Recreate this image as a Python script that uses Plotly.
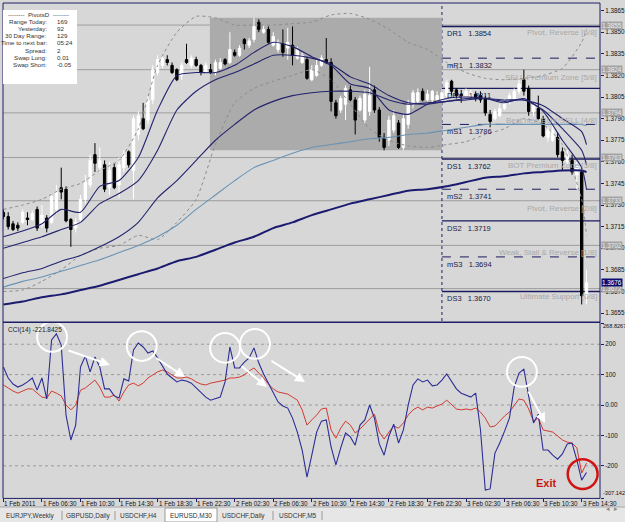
import plotly.graph_objects as go

# ---------------- data ----------------
bars = list(range(122))  # M30 bars from 1 Feb 2011 02:30

opens = [1.3725,1.3722,1.3717,1.3716,1.3718,1.3721,1.3720,1.3727,1.3716,1.3721,
         1.3718,1.3727,1.3742,1.3741,1.3720,1.3714,1.3720,1.3734,1.3744,1.3765,
         1.3756,1.3758,1.3742,1.3756,1.3744,1.3756,1.3767,1.3754,1.3779,1.3790,
         1.3789,1.3803,1.3822,1.3827,1.3831,1.3827,1.3824,1.3820,1.3831,1.3827,
         1.3831,1.3827,1.3822,1.3824,1.3822,1.3825,1.3831,1.3829,1.3836,1.3834,
         1.3845,1.3841,1.3845,1.3857,1.3850,1.3852,1.3841,1.3838,1.3842,1.3839,
         1.3841,1.3832,1.3829,1.3831,1.3817,1.3820,1.3827,1.3831,1.3829,1.3801,
         1.3796,1.3800,1.3810,1.3803,1.3796,1.3789,1.3795,1.3810,1.3796,1.3777,
         1.3775,1.3782,1.3787,1.3770,1.3786,1.3800,1.3802,1.3809,1.3803,1.3803,
         1.3803,1.3803,1.3806,1.3816,1.3810,1.3807,1.3806,1.3804,1.3807,1.3806,
         1.3804,1.3793,1.3790,1.3792,1.3797,1.3802,1.3804,1.3809,1.3817,1.3811,
         1.3795,1.3797,1.3790,1.3777,1.3775,1.3777,1.3767,1.3760,1.3761,1.3751,
         1.3753,1.3667]
highs = [1.3727,1.3725,1.3719,1.3718,1.3727,1.3725,1.3726,1.3729,1.3730,1.3723,
         1.3738,1.3744,1.3756,1.3743,1.3721,1.3721,1.3737,1.3751,1.3765,1.3773,
         1.3770,1.3761,1.3760,1.3759,1.3763,1.3768,1.3768,1.3792,1.3795,1.3801,
         1.3806,1.3827,1.3834,1.3834,1.3834,1.3829,1.3825,1.3829,1.3842,1.3834,
         1.3833,1.3828,1.3829,1.3828,1.3831,1.3832,1.3832,1.3850,1.3838,1.3841,
         1.3846,1.3846,1.3860,1.3859,1.3855,1.3854,1.3850,1.3845,1.3852,1.3853,
         1.3854,1.3840,1.3836,1.3833,1.3827,1.3831,1.3834,1.3846,1.3832,1.3803,
         1.3806,1.3813,1.3813,1.3805,1.3806,1.3810,1.3826,1.3813,1.3798,1.3780,
         1.3792,1.3796,1.3789,1.3793,1.3803,1.3810,1.3811,1.3811,1.3810,1.3810,
         1.3809,1.3810,1.3817,1.3817,1.3811,1.3810,1.3811,1.3810,1.3809,1.3809,
         1.3806,1.3796,1.3797,1.3800,1.3804,1.3808,1.3811,1.3818,1.3824,1.3813,
         1.3801,1.3806,1.3792,1.3784,1.3786,1.3780,1.3770,1.3768,1.3765,1.3760,
         1.3756,1.3685]
lows = [1.3720,1.3713,1.3712,1.3712,1.3717,1.3716,1.3719,1.3712,1.3714,1.3711,
        1.3717,1.3724,1.3734,1.3718,1.3701,1.3711,1.3718,1.3731,1.3742,1.3753,
        1.3753,1.3739,1.3737,1.3741,1.3735,1.3753,1.3756,1.3734,1.3775,1.3782,
        1.3786,1.3800,1.3820,1.3825,1.3827,1.3821,1.3816,1.3817,1.3828,1.3825,
        1.3826,1.3820,1.3821,1.3821,1.3820,1.3824,1.3827,1.3828,1.3833,1.3833,
        1.3838,1.3839,1.3843,1.3850,1.3849,1.3842,1.3840,1.3836,1.3833,1.3831,
        1.3827,1.3831,1.3828,1.3817,1.3816,1.3819,1.3826,1.3828,1.3795,1.3790,
        1.3794,1.3789,1.3802,1.3779,1.3795,1.3787,1.3792,1.3794,1.3774,1.3768,
        1.3771,1.3780,1.3769,1.3768,1.3783,1.3797,1.3800,1.3802,1.3802,1.3801,
        1.3802,1.3801,1.3805,1.3806,1.3804,1.3801,1.3804,1.3803,1.3802,1.3801,
        1.3792,1.3784,1.3789,1.3791,1.3796,1.3800,1.3803,1.3807,1.3806,1.3792,
        1.3792,1.3789,1.3777,1.3774,1.3774,1.3763,1.3754,1.3758,1.3751,1.3741,
        1.3661,1.3661]
closes = [1.3722,1.3715,1.3713,1.3714,1.3725,1.3720,1.3724,1.3714,1.3723,1.3714,
          1.3736,1.3739,1.3739,1.3719,1.3713,1.3718,1.3734,1.3746,1.3761,1.3759,
          1.3761,1.3741,1.3754,1.3742,1.3758,1.3765,1.3758,1.3790,1.3792,1.3783,
          1.3803,1.3824,1.3831,1.3832,1.3829,1.3822,1.3817,1.3827,1.3829,1.3832,
          1.3827,1.3822,1.3827,1.3822,1.3829,1.3829,1.3828,1.3838,1.3834,1.3839,
          1.3842,1.3844,1.3854,1.3852,1.3852,1.3843,1.3847,1.3843,1.3836,1.3843,
          1.3834,1.3838,1.3834,1.3818,1.3824,1.3827,1.3832,1.3829,1.3802,1.3792,
          1.3804,1.3811,1.3803,1.3789,1.3804,1.3807,1.3806,1.3796,1.3777,1.3770,
          1.3789,1.3792,1.3770,1.3790,1.3800,1.3808,1.3808,1.3803,1.3807,1.3809,
          1.3806,1.3808,1.3815,1.3809,1.3806,1.3806,1.3809,1.3808,1.3804,1.3803,
          1.3794,1.3788,1.3795,1.3797,1.3802,1.3806,1.3809,1.3814,1.3809,1.3795,
          1.3799,1.3790,1.3778,1.3782,1.3782,1.3765,1.3761,1.3765,1.3753,1.3757,
          1.3667,1.3676]

# moving averages / bands sampled every 4 bars (+ last bar)
ma_bars = [0,4,8,12,16,20,24,28,32,36,40,44,48,52,56,60,64,68,72,76,80,84,88,92,96,100,104,108,112,116,120,121]
ma_fast = [1.3708,1.3712,1.3717,1.3727,1.3725,1.3743,1.3747,1.3763,1.3796,1.3820,1.3822,1.3822,1.3827,1.3836,1.3843,1.3840,
           1.3833,1.3827,1.3814,1.3811,1.3796,1.3793,1.3800,1.3804,1.3805,1.3804,1.3801,1.3804,1.3795,1.3775,1.3756,1.3741]
ma_mid = [1.3700,1.3704,1.3708,1.3713,1.3718,1.3731,1.3738,1.3747,1.3768,1.3796,1.3809,1.3817,1.3822,1.3828,1.3834,1.3834,
          1.3832,1.3828,1.3819,1.3814,1.3806,1.3801,1.3800,1.3802,1.3803,1.3804,1.3802,1.3803,1.3796,1.3783,1.3768,1.3758]
ma_slow = [1.3679,1.3683,1.3686,1.3691,1.3695,1.3701,1.3708,1.3718,1.3735,1.3747,1.3761,1.3775,1.3786,1.3796,1.3802,1.3806,
           1.3808,1.3809,1.3809,1.3808,1.3803,1.3800,1.3801,1.3802,1.3804,1.3804,1.3803,1.3803,1.3799,1.3790,1.3781,1.3772]
ma_steel = [1.3673,1.3677,1.3680,1.3684,1.3688,1.3692,1.3697,1.3702,1.3708,1.3716,1.3727,1.3737,1.3747,1.3756,1.3761,1.3766,
            1.3770,1.3772,1.3774,1.3776,1.3777,1.3779,1.3780,1.3782,1.3784,1.3786,1.3786,1.3786,1.3786,1.3786,1.3786,1.3785]
ma_long = [1.3661,1.3663,1.3666,1.3668,1.3671,1.3674,1.3678,1.3682,1.3686,1.3691,1.3694,1.3699,1.3704,1.3708,1.3714,1.3718,
           1.3723,1.3727,1.3731,1.3734,1.3737,1.3740,1.3741,1.3743,1.3746,1.3749,1.3750,1.3752,1.3753,1.3754,1.3754,1.3753]
bb_upper = [1.3727,1.3730,1.3734,1.3741,1.3745,1.3754,1.3761,1.3783,1.3827,1.3850,1.3861,1.3860,1.3855,1.3855,1.3855,1.3856,
            1.3857,1.3862,1.3863,1.3859,1.3852,1.3843,1.3838,1.3829,1.3822,1.3818,1.3817,1.3818,1.3820,1.3825,1.3843,1.3852]
bb_lower = [1.3670,1.3671,1.3677,1.3685,1.3695,1.3700,1.3702,1.3709,1.3706,1.3718,1.3734,1.3772,1.3801,1.3811,1.3816,1.3820,
            1.3824,1.3817,1.3800,1.3783,1.3775,1.3771,1.3770,1.3772,1.3774,1.3779,1.3783,1.3790,1.3786,1.3772,1.3734,1.3709]

cci = [125,89,69,59,66,76,89,49,89,20,
       214,234,197,-33,-115,-66,125,161,109,158,
       125,53,53,30,23,86,79,181,204,191,
       171,178,155,128,102,89,76,82,79,72,
       56,39,26,16,20,26,76,191,122,122,
       141,155,188,138,102,72,43,10,-3,-10,
       -43,-89,-148,-237,-165,-89,-53,-49,-138,-197,
       -141,-92,-105,-132,-66,-49,0,-43,-128,-165,
       -102,-63,-125,-82,0,66,86,76,82,63,
       66,82,102,76,53,39,33,26,39,-82,
       -280,-276,-158,-125,-86,-43,59,105,118,23,
       -59,-30,-148,-148,-165,-178,-161,-128,-125,-181,
       -247,-221.8425]
cci_signal = [66,56,46,39,46,53,53,39,26,23,
              46,39,30,0,-16,0,49,56,69,82,
              59,26,26,33,13,43,66,72,63,72,
              89,99,109,115,109,99,89,89,92,86,
              76,69,66,72,76,79,82,89,89,92,
              99,112,122,105,89,69,53,43,39,36,
              26,16,-16,-66,-49,-33,-13,-10,-82,-109,
              -76,-53,-66,-92,-79,-63,-49,-30,-89,-112,
              -89,-69,-76,-59,-33,-16,-7,-16,-7,-10,
              -3,3,16,0,-13,-16,-13,-16,-10,-23,
              -43,-72,-69,-53,-36,-23,0,20,16,-13,
              -53,-43,-82,-86,-89,-102,-115,-122,-125,-141,
              -224,-191]

time_label_bars = [0,8,16,24,32,40,48,56,64,72,80,88,96,104,112,120]
time_labels = ["1 Feb 2011","1 Feb 06:30","1 Feb 10:30","1 Feb 14:30","1 Feb 18:30","1 Feb 22:30",
               "2 Feb 02:30","2 Feb 06:30","2 Feb 10:30","2 Feb 14:30","2 Feb 18:30","2 Feb 22:30",
               "3 Feb 02:30","3 Feb 06:30","3 Feb 10:30","3 Feb 14:30"]
price_ticks = [1.3865,1.3850,1.3835,1.3820,1.3805,1.3790,1.3775,1.3760,1.3745,1.3730,1.3715,1.3700,1.3685,1.3670,1.3655]
cci_max, cci_min = 268.8267, -307.142
cci_ticks = [cci_max,200,100,0,-100,-200,cci_min]
cci_tick_text = ["","200","100","0.00","-100","-200",""]
cci_max_text, cci_min_text = "268.8267", "-307.142"
cci_levels = [200,100,0,-100,-200]

pivot_names = ["DR1","mR1","DPV","mS1","DS1","mS2","DS2","mS3","DS3"]
pivot_values = [1.3854,1.3832,1.3811,1.3786,1.3762,1.3741,1.3719,1.3694,1.3670]
murrey_levels = [1.3855,1.3824,1.3794,1.3763,1.3733,1.3702,1.3672]
murrey_texts = ["Pivot, Reverse [6/8]","SELL Premium Zone [5/8]","Best new BUY/SELL [4/8]",
                "BOT Premium Zone [3/8]","Pivot, Reverse [2/8]","Weak, Stall & Reverse [1/8]",
                "Ultimate Support [0/8]"]
prev_day_start, prev_day_end = 42.85, 91
prev_day_high, prev_day_low = 1.3860, 1.3768
today_start = 91
current_price = 1.3676

info_labels = ["Range Today:","Yesterday:","30 Day Range:","Time to next bar:","Spread:","Swap Long:","Swap Short:"]
info_values = ["169","92","129","05:24","2","0.01","-0.05"]
tabs = ["EURJPY,Weekly","GBPUSD,Daily","USDCHF,H4","EURUSD,M30","USDCHF,Daily","USDCHF,M5"]

# circles (bar, cci) and arrows on the CCI window
white_circles = [(10.1,224),(28.7,194),(46.0,188),(52.2,201),(107.6,109)]
exit_circle = (120.2,-227)
arrows = [((13.2,181),(22.1,132)),((31.4,158),(37.7,92)),((49.1,132),(54.7,59)),
          ((55.3,148),(62.6,76)),((108.8,49),(112.4,-59))]

# ---------------- styling ----------------
W, H = 625, 522
BG = "#D7D7D7"
NAVY = "#1E1E66"
FONT = "Liberation Sans"

def PX(x):
    return x / W

def PY(y):
    return 1 - y / H

fig = go.Figure()

fig.add_trace(go.Candlestick(
    x=bars, open=opens, high=highs, low=lows, close=closes,
    increasing=dict(line=dict(color="white", width=1), fillcolor="white"),
    decreasing=dict(line=dict(color="black", width=1), fillcolor="black"),
    whiskerwidth=0, xaxis="x", yaxis="y", showlegend=False, hoverinfo="skip"))

def add_line(yvals, color, width, dash="solid"):
    fig.add_trace(go.Scatter(x=ma_bars, y=yvals, mode="lines", xaxis="x", yaxis="y",
                             line=dict(color=color, width=width, dash=dash, shape="spline", smoothing=0.6),
                             showlegend=False, hoverinfo="skip"))

add_line(bb_upper, "#8C8C8C", 1, "dot")
add_line(bb_lower, "#8C8C8C", 1, "dot")
add_line(ma_long, "#1B1B70", 2)
add_line(ma_steel, "#6A93B4", 1.1)
add_line(ma_slow, "#23236E", 1.1)
add_line(ma_mid, "#23236E", 1.1)
add_line(ma_fast, "#23236E", 1.1)

fig.add_trace(go.Scatter(x=bars, y=cci_signal, mode="lines", xaxis="x2", yaxis="y2",
                         line=dict(color="#D23A32", width=1), showlegend=False, hoverinfo="skip"))
fig.add_trace(go.Scatter(x=bars, y=cci, mode="lines", xaxis="x2", yaxis="y2",
                         line=dict(color="#2D2D96", width=1.1), showlegend=False, hoverinfo="skip"))

shapes = []
annotations = []

# previous day box
shapes.append(dict(type="rect", xref="x", yref="y", x0=prev_day_start, x1=prev_day_end,
                   y0=prev_day_low, y1=prev_day_high, fillcolor="#ABABAB", line=dict(width=0), layer="below"))
# murrey levels
for lv, tx in zip(murrey_levels, murrey_texts):
    shapes.append(dict(type="line", xref="x domain", yref="y", x0=0, x1=1, y0=lv, y1=lv,
                       line=dict(color="#9E9E9E", width=1), layer="below"))
    annotations.append(dict(xref="paper", yref="y", x=PX(599), y=lv, text=tx, showarrow=False,
                            xanchor="right", yanchor="top", yshift=-1,
                            font=dict(family=FONT, size=8, color="#A9A9A9")))
    annotations.append(dict(xref="paper", yref="y", x=PX(601), y=lv, text=f"{lv:.4f}", showarrow=False,
                            xanchor="left", yanchor="middle", bgcolor="#A3A3A3",
                            font=dict(family=FONT, size=6.3, color="#EDEDED"), borderpad=0))
# today separator
shapes.append(dict(type="line", xref="x", yref="y domain", x0=today_start, x1=today_start, y0=0, y1=1,
                   line=dict(color=NAVY, width=1, dash="dot"), layer="below"))
# pivot lines
for nm, pv in zip(pivot_names, pivot_values):
    shapes.append(dict(type="line", xref="x", yref="y", x0=today_start, x1=123.8, y0=pv, y1=pv,
                       line=dict(color="#1A1A5E", width=1.4 if nm.startswith("D") else 1,
                                 dash="solid" if nm.startswith("D") else "dash"), layer="below"))
    annotations.append(dict(xref="x", yref="y", x=today_start + 0.6, y=pv, text=f"{nm}   {pv:.4f}",
                            showarrow=False, xanchor="left", yanchor="top", yshift=-1,
                            font=dict(family=FONT, size=7.5, color="#1A1A4A")))
# current price box
annotations.append(dict(xref="paper", yref="y", x=PX(601), y=current_price, text=f"{current_price:.4f}",
                        showarrow=False, xanchor="left", yanchor="middle", bgcolor="#0C0C70",
                        font=dict(family=FONT, size=6.3, color="white"), borderpad=0))

# CCI dotted levels
for lv in cci_levels:
    shapes.append(dict(type="line", xref="x2 domain", yref="y2", x0=0, x1=1, y0=lv, y1=lv,
                       line=dict(color="#9A9A9A", width=1, dash="dot"), layer="below"))
annotations.append(dict(xref="paper", yref="paper", x=PX(601), y=PY(326), text=cci_max_text,
                        showarrow=False, xanchor="left", yanchor="middle",
                        font=dict(family=FONT, size=5.6, color="#111111")))
annotations.append(dict(xref="paper", yref="paper", x=PX(601), y=PY(493), text=cci_min_text,
                        showarrow=False, xanchor="left", yanchor="middle",
                        font=dict(family=FONT, size=5.6, color="#111111")))

# circles
rx, ry = 3.1, 49
for cx, cy in white_circles:
    shapes.append(dict(type="circle", xref="x2", yref="y2", x0=cx - rx, x1=cx + rx, y0=cy - ry, y1=cy + ry,
                       line=dict(color="white", width=2)))
cx, cy = exit_circle
shapes.append(dict(type="circle", xref="x2", yref="y2", x0=cx - rx, x1=cx + rx, y0=cy - ry, y1=cy + ry,
                   line=dict(color="#D01414", width=2.5)))
for (x0, y0), (x1, y1) in arrows:
    annotations.append(dict(xref="x2", yref="y2", axref="x2", ayref="y2", x=x1, y=y1, ax=x0, ay=y0,
                            text="", showarrow=True, arrowhead=2, arrowsize=1, arrowwidth=2,
                            arrowcolor="white"))
annotations.append(dict(xref="x2", yref="y2", x=112.8, y=-257, text="<b>Exit</b>", showarrow=False,
                        font=dict(family=FONT, size=11, color="#CC1414")))
annotations.append(dict(xref="paper", yref="paper", x=PX(6), y=PY(330), text="CCI(14) -221.8425",
                        showarrow=False, xanchor="left", yanchor="middle",
                        font=dict(family=FONT, size=6.5, color="#222222")))

# time labels (left-aligned at their ticks, MT4 style)
for tb, tl in zip(time_label_bars, time_labels):
    annotations.append(dict(xref="x2", yref="paper", x=tb, y=PY(503), text=tl, showarrow=False,
                            xanchor="left", yanchor="middle", xshift=-1,
                            font=dict(family=FONT, size=6.3, color="#111111")))

# frames
frame = [(3, 3, 600, 3), (3, 3, 3, 498.4), (600, 3, 600, 498.4), (3, 322.3, 600, 322.3), (3, 498.4, 600, 498.4)]
for x0, y0, x1, y1 in frame:
    shapes.append(dict(type="line", xref="paper", yref="paper", x0=PX(x0), y0=PY(y0), x1=PX(x1), y1=PY(y1),
                       line=dict(color=NAVY, width=1.6 if y0 == 322.3 else 1)))

# info box
shapes.append(dict(type="rect", xref="paper", yref="paper", x0=PX(3), x1=PX(77), y0=PY(84), y1=PY(10),
                   fillcolor="white", line=dict(width=0)))
annotations.append(dict(xref="paper", yref="paper", x=PX(38), y=PY(14), text="--------  PivotsD  --------",
                        showarrow=False, xanchor="center", yanchor="middle",
                        font=dict(family=FONT, size=6.2, color="#333333")))
for k, (lb, vl) in enumerate(zip(info_labels, info_values)):
    yy = 21.2 + k * 7.2
    annotations.append(dict(xref="paper", yref="paper", x=PX(49), y=PY(yy), text=lb, showarrow=False,
                            xanchor="right", yanchor="middle", font=dict(family=FONT, size=6.2, color="#333333")))
    annotations.append(dict(xref="paper", yref="paper", x=PX(55), y=PY(yy), text=vl, showarrow=False,
                            xanchor="left", yanchor="middle", font=dict(family=FONT, size=6.2, color="#333333")))

# tab bar
shapes.append(dict(type="rect", xref="paper", yref="paper", x0=0, x1=1, y0=0, y1=PY(507),
                   fillcolor="#E6E6E6", line=dict(width=0), layer="below"))
shapes.append(dict(type="line", xref="paper", yref="paper", x0=0, x1=1, y0=PY(507), y1=PY(507),
                   line=dict(color="#A8A8A8", width=1), layer="below"))
tab_centers = [30, 88, 138, 191, 243, 298]
sep_x = [62, 115, 273, 322]
shapes.append(dict(type="rect", xref="paper", yref="paper", x0=PX(165), x1=PX(217), y0=0, y1=PY(508),
                   fillcolor="white", line=dict(color="#9A9A9A", width=1), layer="below"))
for sx in sep_x:
    shapes.append(dict(type="line", xref="paper", yref="paper", x0=PX(sx), x1=PX(sx), y0=PY(511), y1=PY(520),
                       line=dict(color="#9A9A9A", width=1), layer="below"))
for tc, tb in zip(tab_centers, tabs):
    annotations.append(dict(xref="paper", yref="paper", x=PX(tc), y=PY(515.5), text=tb, showarrow=False,
                            xanchor="center", yanchor="middle", font=dict(family=FONT, size=6.5, color="#333333")))
annotations.append(dict(xref="paper", yref="paper", x=PX(612), y=PY(515), text="◂", showarrow=False,
                        font=dict(family="DejaVu Sans", size=7, color="#8A8A8A")))
annotations.append(dict(xref="paper", yref="paper", x=PX(620), y=PY(515), text="▸", showarrow=False,
                        font=dict(family="DejaVu Sans", size=7, color="#8A8A8A")))

xr = [-0.08, 123.8]
fig.update_layout(
    width=W, height=H, margin=dict(l=0, r=0, t=0, b=0, autoexpand=False),
    paper_bgcolor=BG, plot_bgcolor=BG, showlegend=False,
    font=dict(family=FONT, size=7, color="#111111"),
    xaxis=dict(domain=[PX(3), PX(600)], range=xr, anchor="y", showticklabels=False, showgrid=False,
               zeroline=False, showline=False, ticks="", rangeslider=dict(visible=False), automargin=False),
    yaxis=dict(domain=[PY(321), PY(3)], range=[1.36495, 1.38703], anchor="x", side="right",
               tickvals=price_ticks, ticktext=[f"{t:.4f}" for t in price_ticks], ticks="outside",
               ticklen=3, tickcolor=NAVY, showgrid=False, zeroline=False, showline=False, automargin=False,
               tickfont=dict(family=FONT, size=6.3, color="#111111")),
    xaxis2=dict(domain=[PX(3), PX(600)], range=xr, anchor="y2", tickvals=time_label_bars,
                showticklabels=False, ticks="outside", ticklen=3, tickcolor=NAVY, showgrid=False,
                zeroline=False, showline=False, automargin=False),
    yaxis2=dict(domain=[PY(498.4), PY(323.3)], range=[cci_min, cci_max], anchor="x2", side="right",
                tickvals=cci_ticks, ticktext=cci_tick_text, ticks="outside", ticklen=3, tickcolor=NAVY,
                showgrid=False, zeroline=False, showline=False, automargin=False,
                tickfont=dict(family=FONT, size=6.3, color="#111111")),
    shapes=shapes, annotations=annotations,
)

fig.write_html("out.html")
